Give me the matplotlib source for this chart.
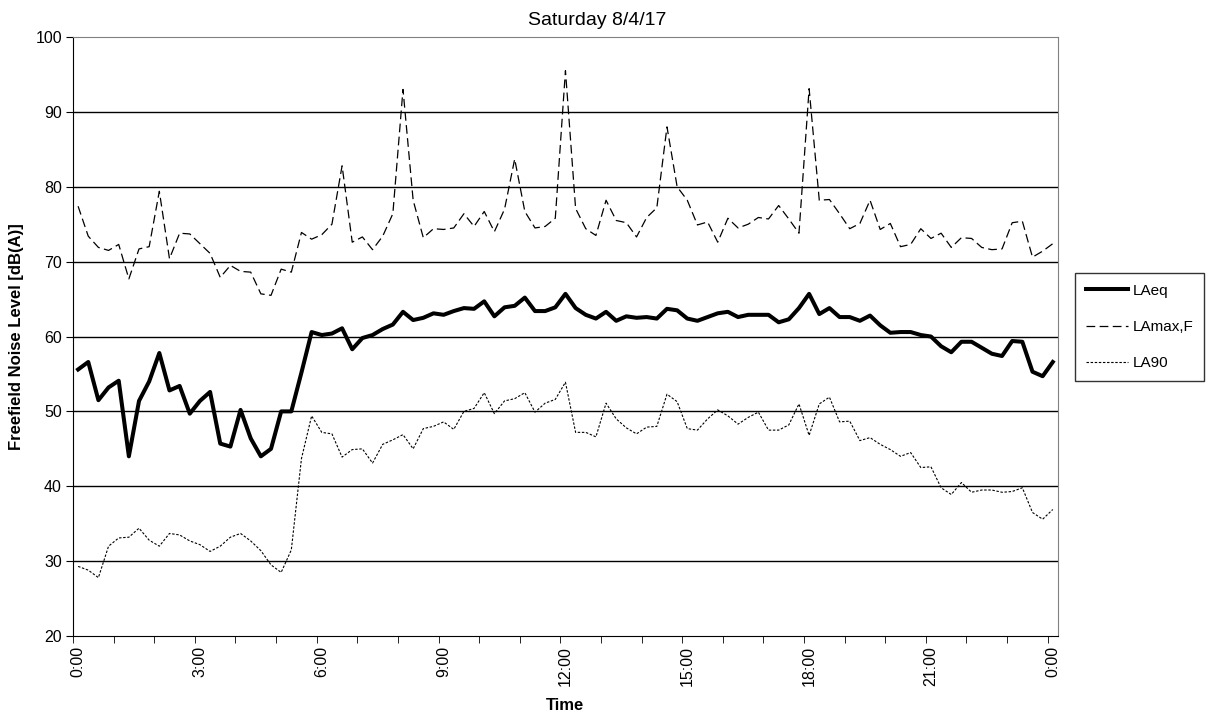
import numpy as np
import matplotlib
matplotlib.use("Agg")
import matplotlib.pyplot as plt

plt.rcParams['font.family'] = ['Liberation Sans', 'DejaVu Sans']

# 15-minute intervals, 0:00 to 0:00 (97 points)
laeq = [55.6, 56.6, 51.5, 53.2, 54.1, 44.0, 51.4, 54.0, 57.8, 52.8,
        53.4, 49.7, 51.4, 52.6, 45.7, 45.3, 50.2, 46.4, 44.0, 45.0,
        50.0, 50.0, 55.2, 60.6, 60.2, 60.4, 61.1, 58.3, 59.8, 60.2,
        61.0, 61.6, 63.3, 62.2, 62.5, 63.1, 62.9, 63.4, 63.8, 63.7,
        64.7, 62.7, 63.9, 64.1, 65.2, 63.4, 63.4, 63.9, 65.7, 63.8,
        62.9, 62.4, 63.3, 62.1, 62.7, 62.5, 62.6, 62.4, 63.7, 63.5,
        62.4, 62.1, 62.6, 63.1, 63.3, 62.6, 62.9, 62.9, 62.9, 61.9,
        62.3, 63.8, 65.7, 63.0, 63.8, 62.6, 62.6, 62.1, 62.8, 61.5,
        60.5, 60.6, 60.6, 60.2, 60.0, 58.7, 57.9, 59.3, 59.3, 58.5,
        57.7, 57.4, 59.4, 59.3, 55.3, 54.7, 56.6]

lamax = [77.4, 73.4, 71.9, 71.5, 72.3, 67.7, 71.7, 72.0, 79.4, 70.4,
         73.8, 73.7, 72.4, 71.1, 67.9, 69.5, 68.7, 68.6, 65.7, 65.5,
         69.0, 68.6, 73.9, 73.0, 73.6, 75.0, 82.8, 72.6, 73.3, 71.6,
         73.4, 76.4, 93.0, 78.2, 73.2, 74.4, 74.3, 74.5, 76.4, 74.7,
         76.7, 74.0, 77.0, 83.7, 76.7, 74.5, 74.7, 75.8, 95.5, 77.1,
         74.4, 73.5, 78.2, 75.5, 75.2, 73.3, 75.9, 77.2, 88.0, 80.0,
         78.2, 74.9, 75.3, 72.6, 75.8, 74.5, 75.0, 75.9, 75.7, 77.5,
         75.7, 73.8, 93.1, 78.2, 78.3, 76.4, 74.4, 75.1, 78.2, 74.3,
         75.1, 72.0, 72.3, 74.4, 73.1, 73.8, 71.9, 73.2, 73.1, 71.9,
         71.6, 71.7, 75.2, 75.4, 70.6, 71.4, 72.4]

la90 = [29.3, 28.8, 27.8, 32.0, 33.1, 33.2, 34.4, 32.8, 32.0, 33.7,
        33.5, 32.7, 32.2, 31.3, 32.0, 33.2, 33.7, 32.7, 31.4, 29.5,
        28.5, 31.5, 43.7, 49.4, 47.2, 47.0, 43.9, 44.9, 45.0, 43.1,
        45.6, 46.2, 46.9, 45.0, 47.7, 48.0, 48.6, 47.6, 50.0, 50.4,
        52.5, 49.7, 51.4, 51.7, 52.5, 49.9, 51.1, 51.6, 53.9, 47.2,
        47.2, 46.6, 51.1, 49.0, 47.8, 47.0, 47.9, 48.0, 52.3, 51.3,
        47.7, 47.5, 49.0, 50.2, 49.4, 48.3, 49.2, 49.9, 47.5, 47.5,
        48.2, 51.0, 46.8, 51.0, 51.9, 48.6, 48.7, 46.1, 46.5, 45.6,
        44.9, 44.0, 44.5, 42.5, 42.6, 39.8, 38.9, 40.5, 39.2, 39.5,
        39.5, 39.2, 39.3, 39.8, 36.5, 35.6, 36.9]

tick_labels = ['0:00', '3:00', '6:00', '9:00', '12:00', '15:00', '18:00', '21:00', '0:00']

x = np.arange(len(laeq))

fig = plt.figure(figsize=(12.09, 7.19), dpi=100)
ax = fig.add_axes([0.0604, 0.1154, 0.8146, 0.8331])

for y in range(30, 100, 10):
    ax.axhline(y, color='black', lw=1.0, zorder=1)

ax.plot(x, laeq, color='black', lw=2.9, label='LAeq', zorder=3)
ax.plot(x, lamax, color='black', lw=0.9, dashes=(7, 3.5), label='LAmax,F', zorder=2)
ax.plot(x, la90, color='black', lw=0.8, dashes=(2.2, 1.5), label='LA90', zorder=2)

ax.set_xlim(-0.5, len(x) - 0.5)
ax.set_ylim(20, 100)
ax.set_yticks(range(20, 101, 10))

ax.set_xticks(x[::12])
ax.set_xticklabels(tick_labels, rotation=90)
ax.set_xticks(np.arange(-0.5, len(x), 4), minor=True)
ax.tick_params(axis='x', which='major', length=0, pad=7, labelsize=11.5)
ax.tick_params(axis='x', which='minor', length=5, direction='out', color='black')
ax.tick_params(axis='y', length=5, direction='out', labelsize=11.5, pad=3)

ax.spines['top'].set_color('#808080')
ax.spines['right'].set_color('#808080')
ax.spines['left'].set_color('black')
ax.spines['bottom'].set_color('black')

fig.text(597 / 1209, 1 - 25 / 719, 'Saturday 8/4/17', fontsize=14,
         ha='center', va='baseline')
ax.set_xlabel('Time', fontsize=12, fontweight='bold', labelpad=9)
ax.set_ylabel('Freefield Noise Level [dB(A)]', fontsize=12, fontweight='bold', labelpad=8)

leg = fig.legend(loc='upper left', bbox_to_anchor=(1075 / 1209, 1 - 273 / 719), fontsize=11,
                 frameon=True, fancybox=False, edgecolor='black', handlelength=2.75,
                 labelspacing=1.45, borderpad=0.7, borderaxespad=0, handletextpad=0.3)
leg.get_frame().set_linewidth(1.0)

fig.savefig('out.png', dpi=100)
